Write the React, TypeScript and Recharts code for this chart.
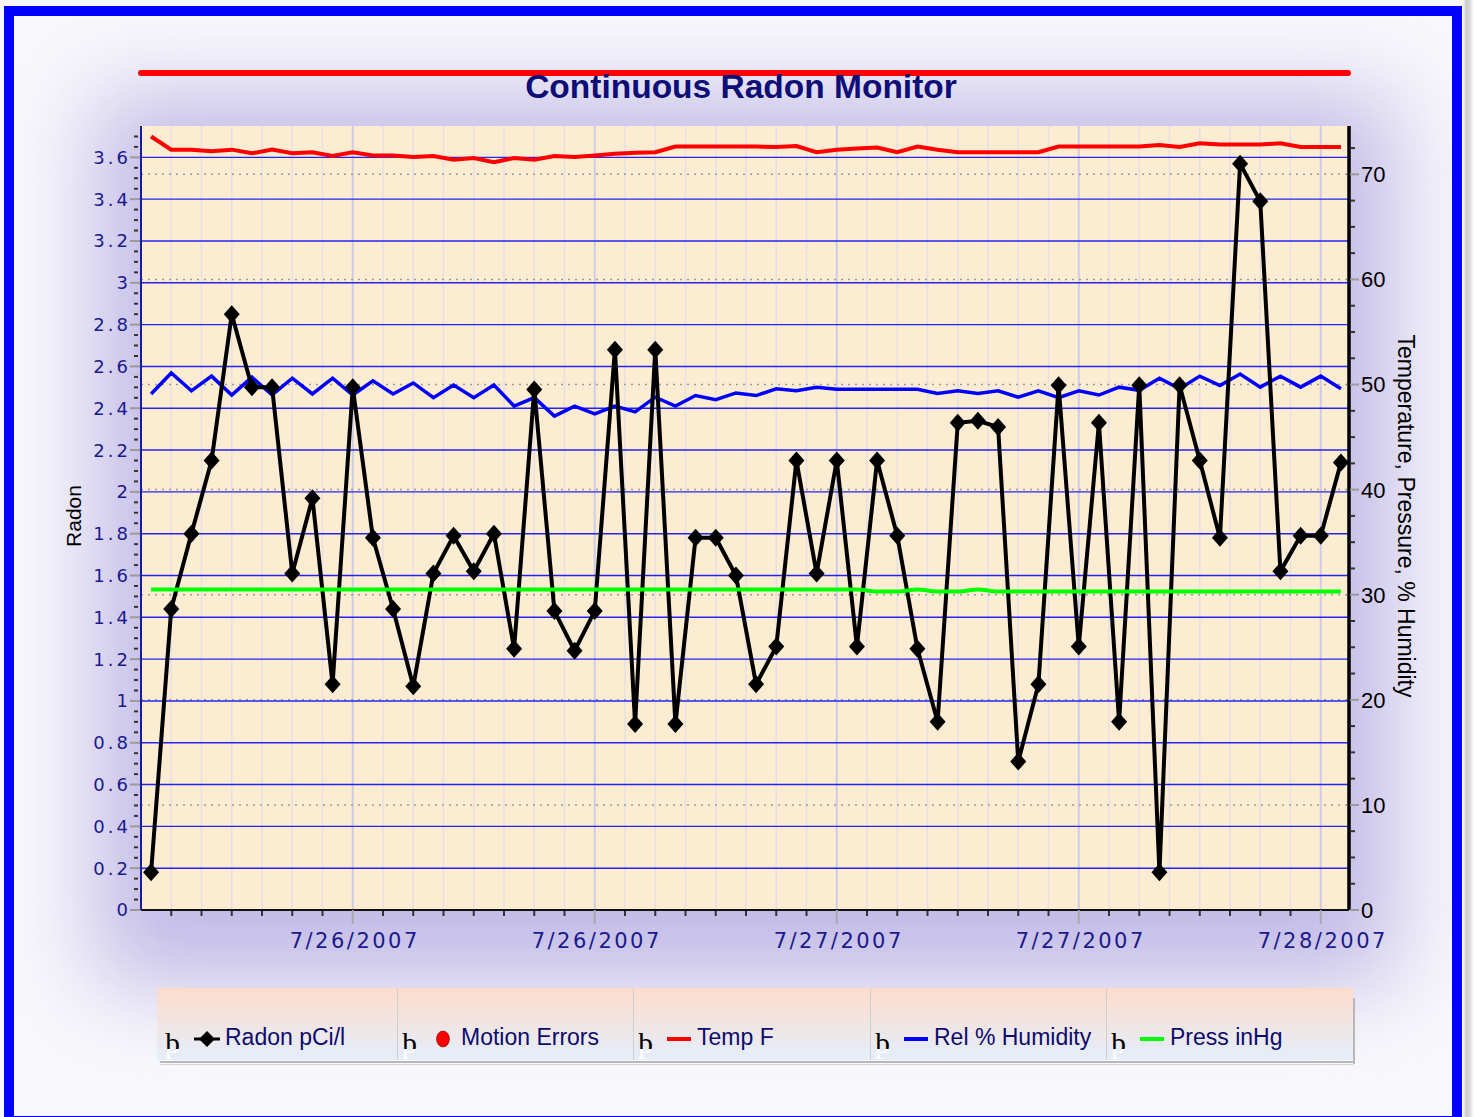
import React from 'react';
import { ComposedChart, Line, XAxis, YAxis, CartesianGrid } from 'recharts';

// hours relative to 7/26/2007 00:00, one reading per hour
const hours = [
  -10, -9, -8, -7, -6, -5, -4, -3, -2, -1,
  0, 1, 2, 3, 4, 5, 6, 7, 8, 9,
  10, 11, 12, 13, 14, 15, 16, 17, 18, 19,
  20, 21, 22, 23, 24, 25, 26, 27, 28, 29,
  30, 31, 32, 33, 34, 35, 36, 37, 38, 39,
  40, 41, 42, 43, 44, 45, 46, 47, 48, 49,
];

const radon = [
  0.18, 1.44, 1.8, 2.15, 2.85, 2.5, 2.5, 1.61, 1.97, 1.08,
  2.5, 1.78, 1.44, 1.07, 1.61, 1.79, 1.62, 1.8, 1.25, 2.49,
  1.43, 1.24, 1.43, 2.68, 0.89, 2.68, 0.89, 1.78, 1.78, 1.6,
  1.08, 1.26, 2.15, 1.61, 2.15, 1.26, 2.15, 1.79, 1.25, 0.9,
  2.33, 2.34, 2.31, 0.71, 1.08, 2.51, 1.26, 2.33, 0.9, 2.51,
  0.18, 2.51, 2.15, 1.78, 3.57, 3.39, 1.62, 1.79, 1.79, 2.14,
];

const tempF = [
  73.6, 72.35, 72.35, 72.2, 72.35, 72.0, 72.35, 72.0, 72.1, 71.75,
  72.1, 71.8, 71.8, 71.65, 71.75, 71.4, 71.55, 71.15, 71.55, 71.4,
  71.75, 71.65, 71.8, 71.95, 72.05, 72.1, 72.65, 72.65, 72.65, 72.65,
  72.65, 72.6, 72.7, 72.1, 72.35, 72.45, 72.55, 72.1, 72.65, 72.35,
  72.1, 72.1, 72.1, 72.1, 72.1, 72.65, 72.65, 72.65, 72.65, 72.65,
  72.8, 72.6, 72.95, 72.85, 72.85, 72.85, 72.95, 72.6, 72.6, 72.6,
];

const humidity = [
  49.1, 51.1, 49.4, 50.8, 49.0, 50.7, 49.0, 50.6, 49.1, 50.6,
  49.0, 50.35, 49.1, 50.15, 48.75, 49.95, 48.75, 49.95, 47.95, 48.75,
  47.0, 47.95, 47.2, 47.95, 47.4, 48.8, 47.95, 48.95, 48.55, 49.2,
  48.95, 49.6, 49.4, 49.75, 49.55, 49.55, 49.55, 49.55, 49.55, 49.15,
  49.4, 49.15, 49.4, 48.8, 49.4, 48.75, 49.4, 49.0, 49.75, 49.45,
  50.6, 49.6, 50.8, 49.9, 51.0, 49.75, 50.8, 49.75, 50.8, 49.6,
];

const pressure = [
  30.5, 30.5, 30.5, 30.5, 30.5, 30.5, 30.5, 30.5, 30.5, 30.5,
  30.5, 30.5, 30.5, 30.5, 30.5, 30.5, 30.5, 30.5, 30.5, 30.5,
  30.5, 30.5, 30.5, 30.5, 30.5, 30.5, 30.5, 30.5, 30.5, 30.5,
  30.5, 30.5, 30.5, 30.5, 30.5, 30.5, 30.3, 30.3, 30.5, 30.3,
  30.3, 30.5, 30.3, 30.3, 30.3, 30.3, 30.3, 30.3, 30.3, 30.3,
  30.3, 30.3, 30.3, 30.3, 30.3, 30.3, 30.3, 30.3, 30.3, 30.3,
];

const xMajorTicks = [0, 12, 24, 36, 48];
const xMajorLabels = ['7/26/2007', '7/26/2007', '7/27/2007', '7/27/2007', '7/28/2007'];
const xTicks = Array.from({ length: 39 }, (_, i) => -9 + i * 1.5);

const leftMajors = [0, 0.2, 0.4, 0.6, 0.8, 1, 1.2, 1.4, 1.6, 1.8, 2, 2.2, 2.4, 2.6, 2.8, 3, 3.2, 3.4, 3.6];
const leftTicks = Array.from({ length: 75 }, (_, i) => Math.round(i * 5) / 100);

const rightMajors = [0, 10, 20, 30, 40, 50, 60, 70];
const rightTicks = Array.from({ length: 30 }, (_, i) => i * 2.5);

const legendItems = [
  { label: 'Radon pCi/l', kind: 'diamond', color: '#000000' },
  { label: 'Motion Errors', kind: 'circle', color: '#ff0000' },
  { label: 'Temp F', kind: 'line', color: '#ff0000' },
  { label: 'Rel % Humidity', kind: 'line', color: '#0000ff' },
  { label: 'Press inHg', kind: 'line', color: '#00ff00' },
];

const data = hours.map((h, i) => ({
  h,
  radon: radon[i],
  temp: tempF[i],
  hum: humidity[i],
  press: pressure[i],
}));

const NAVY = '#1a1a8c';
const isIn = (arr: number[], v: number) => arr.some((m) => Math.abs(m - v) < 1e-6);

function LeftTick(props: any) {
  const { x, y, payload } = props;
  const v = payload.value;
  if (isIn(leftMajors, v)) {
    return (
      <g>
        <line x1={x - 11} x2={x - 1} y1={y} y2={y} stroke="#9a9a9a" strokeWidth={2} />
        <text x={x - 10} y={y} dy="0.36em" textAnchor="end" fill={NAVY}
          style={{ fontFamily: 'DejaVu Sans', fontSize: 18, letterSpacing: 3 }}>
          {String(v)}
        </text>
      </g>
    );
  }
  return <line x1={x - 7} x2={x - 3} y1={y} y2={y} stroke="#333" strokeWidth={2} />;
}

function RightTick(props: any) {
  const { x, y, payload } = props;
  const v = payload.value;
  if (isIn(rightMajors, v)) {
    return (
      <g>
        <line x1={x + 1} x2={x + 10} y1={y} y2={y} stroke="#9a9a9a" strokeWidth={2} />
        <text x={x + 12} y={y} dy="0.36em" textAnchor="start" fill="#000"
          style={{ fontFamily: 'Liberation Sans', fontSize: 22 }}>
          {String(v)}
        </text>
      </g>
    );
  }
  return <line x1={x + 1} x2={x + 6} y1={y} y2={y} stroke="#333" strokeWidth={2} />;
}

function XTick(props: any) {
  const { x, y, payload } = props;
  const idx = xMajorTicks.findIndex((m) => Math.abs(m - payload.value) < 1e-6);
  if (idx >= 0) {
    return (
      <g>
        <line x1={x} x2={x} y1={y} y2={y + 14} stroke="#aaaaaa" strokeWidth={2} />
        <text x={x + 2} y={y + 30} dy="0.36em" textAnchor="middle" fill={NAVY}
          style={{ fontFamily: 'DejaVu Sans', fontSize: 21, letterSpacing: 2.5 }}>
          {xMajorLabels[idx]}
        </text>
      </g>
    );
  }
  return <line x1={x} x2={x} y1={y + 1} y2={y + 6} stroke="#333" strokeWidth={2} />;
}

function Diamond(props: any) {
  const { cx, cy, index } = props;
  if (cx == null || cy == null) return null;
  return (
    <path key={`d${index}`} d={`M${cx},${cy - 9} L${cx + 8},${cy} L${cx},${cy + 9} L${cx - 8},${cy} Z`} fill="#000" />
  );
}

function Thorn() {
  return (
    <span style={{ position: 'relative', display: 'inline-block', fontFamily: 'Liberation Serif', fontSize: 30, lineHeight: '30px' }}>
      <span style={{ color: '#ffffff' }}>þ</span>
      <span style={{ position: 'absolute', left: 0, top: 0, color: '#000', clipPath: 'inset(0 0 30% 0)' }}>þ</span>
    </span>
  );
}

function LegendMarker({ kind, color }: { kind: string; color: string }) {
  if (kind === 'diamond') {
    return (
      <svg width={26} height={20} style={{ display: 'block' }}>
        <line x1={0} x2={26} y1={10} y2={10} stroke={color} strokeWidth={3} />
        <path d="M13,2 L21,10 L13,18 L5,10 Z" fill={color} />
      </svg>
    );
  }
  if (kind === 'circle') {
    return (
      <svg width={26} height={20} style={{ display: 'block' }}>
        <ellipse cx={13} cy={10} rx={6.5} ry={8} fill={color} stroke="#600" strokeWidth={0.5} />
      </svg>
    );
  }
  return (
    <svg width={26} height={20} style={{ display: 'block' }}>
      <line x1={1} x2={25} y1={10} y2={10} stroke={color} strokeWidth={4} />
    </svg>
  );
}

export default function App() {
  const cellLefts = [157, 397, 633, 870, 1106];
  const cellRight = 1353;
  return (
    <div style={{ position: 'absolute', left: 0, top: 0, width: 1474, height: 1117, overflow: 'hidden', background: '#f8f8fc' }}>
      {/* lavender glow around the plot */}
      <div style={{
        position: 'absolute', left: 95, top: 95, width: 1300, height: 890,
        background: '#c2bae6', filter: 'blur(45px)',
      }} />

      {/* title */}
      <div style={{ position: 'absolute', left: 138, top: 70, width: 1213, height: 6, background: '#ff0000', borderRadius: 3 }} />
      <div style={{
        position: 'absolute', left: 0, width: 1474, top: 68, textAlign: 'center',
        fontFamily: 'Liberation Sans', fontWeight: 'bold', fontSize: 33.5, color: '#0e0e78', lineHeight: '38px',
        paddingLeft: 4,
      }}>
        Continuous Radon Monitor
      </div>

      {/* chart */}
      <div style={{ position: 'absolute', left: 0, top: 0 }}>
        <ComposedChart width={1474} height={1000} data={data}
          margin={{ top: 126, right: 65, bottom: 30, left: 81 }}>
          <CartesianGrid xAxisId="x" yAxisId="left" horizontal={false} vertical
            fill="#fbecd2" stroke="#e6dfe6" strokeWidth={1.5} />
          <CartesianGrid xAxisId="x" yAxisId="left" horizontal={false} vertical
            verticalValues={xMajorTicks} stroke="#cfcde6" strokeWidth={2} />
          <CartesianGrid xAxisId="x" yAxisId="right" vertical={false} horizontal
            horizontalValues={rightMajors.slice(1)} stroke="#9a9a9a" strokeWidth={1.5} strokeDasharray="2 5" />
          <CartesianGrid xAxisId="x" yAxisId="left" vertical={false} horizontal
            horizontalValues={leftMajors.slice(1)} stroke="#2424ee" strokeWidth={1.4} />

          <XAxis xAxisId="x" dataKey="h" type="number" domain={[-10.5, 49.4]} ticks={xTicks}
            interval={0} tickSize={0} tickMargin={0} height={60} tick={<XTick />}
            axisLine={{ stroke: '#111', strokeWidth: 2 }} tickLine={false} allowDataOverflow />
          <YAxis yAxisId="left" orientation="left" type="number" domain={[0, 3.75]} ticks={leftTicks}
            interval={0} tickSize={0} tickMargin={0} width={60} tick={<LeftTick />}
            axisLine={{ stroke: '#1a1a9a', strokeWidth: 2 }} tickLine={false} allowDataOverflow />
          <YAxis yAxisId="right" orientation="right" type="number" domain={[0, 74.6]} ticks={rightTicks}
            interval={0} tickSize={0} tickMargin={0} width={60} tick={<RightTick />}
            axisLine={{ stroke: '#000', strokeWidth: 3.5 }} tickLine={false} allowDataOverflow />

          <Line xAxisId="x" yAxisId="right" dataKey="temp" type="linear" stroke="#ff0000" strokeWidth={4}
            dot={false} isAnimationActive={false} />
          <Line xAxisId="x" yAxisId="right" dataKey="hum" type="linear" stroke="#0000ff" strokeWidth={3.5}
            dot={false} isAnimationActive={false} />
          <Line xAxisId="x" yAxisId="left" dataKey="radon" type="linear" stroke="#000" strokeWidth={4}
            dot={<Diamond />} isAnimationActive={false} />
          <Line xAxisId="x" yAxisId="right" dataKey="press" type="monotone" stroke="#00ff00" strokeWidth={4}
            dot={false} isAnimationActive={false} />
        </ComposedChart>
      </div>

      {/* axis titles */}
      <div style={{
        position: 'absolute', left: 74, top: 516, transform: 'translate(-50%, -50%) rotate(-90deg)',
        fontFamily: 'Liberation Sans', fontSize: 21, color: '#000', whiteSpace: 'nowrap',
      }}>Radon</div>
      <div style={{
        position: 'absolute', left: 1405, top: 516, transform: 'translate(-50%, -50%) rotate(90deg)',
        fontFamily: 'Liberation Sans', fontSize: 23, color: '#000', whiteSpace: 'nowrap',
      }}>Temperature, Pressure, % Humidity</div>

      {/* legend */}
      <div style={{
        position: 'absolute', left: 157, top: 988, width: cellRight - 157, height: 72,
        background: 'linear-gradient(#fddccb, #e4eefb)',
      }} />
      <div style={{ position: 'absolute', left: 160, top: 1061, width: cellRight - 160, height: 2, background: '#b8b8b8' }} />
      <div style={{ position: 'absolute', left: 160, top: 1064, width: cellRight - 160, height: 1, background: '#d4d4d4' }} />
      <div style={{ position: 'absolute', left: cellRight, top: 998, width: 2, height: 66, background: '#b8b8b8' }} />
      {legendItems.map((it, i) => (
        <React.Fragment key={it.label}>
          {i > 0 && (
            <div style={{ position: 'absolute', left: cellLefts[i], top: 988, width: 1, height: 72, background: '#cfcfcf' }} />
          )}
          <div style={{ position: 'absolute', left: cellLefts[i] + (i === 0 ? 8 : 5), top: 1028 }}>
            <Thorn />
          </div>
          <div style={{ position: 'absolute', left: cellLefts[i] + (i === 0 ? 37 : 33), top: 1029 }}>
            <LegendMarker kind={it.kind} color={it.color} />
          </div>
          <div style={{
            position: 'absolute', left: cellLefts[i] + (i === 0 ? 68 : 64), top: 1024,
            fontFamily: 'Liberation Sans', fontSize: 23, color: '#0c0c6e', whiteSpace: 'nowrap',
          }}>{it.label}</div>
        </React.Fragment>
      ))}

      {/* outer frame */}
      <div style={{
        position: 'absolute', left: 4, top: 6, width: 1458, height: 1120, boxSizing: 'border-box',
        border: '10px solid #0000ff',
      }} />
      <div style={{ position: 'absolute', left: 1462, top: 0, width: 12, height: 1117, background: 'linear-gradient(90deg, #ffffff, #c8c8c8 40%, #e0e0e0 70%, #ffffff)' }} />
    </div>
  );
}
